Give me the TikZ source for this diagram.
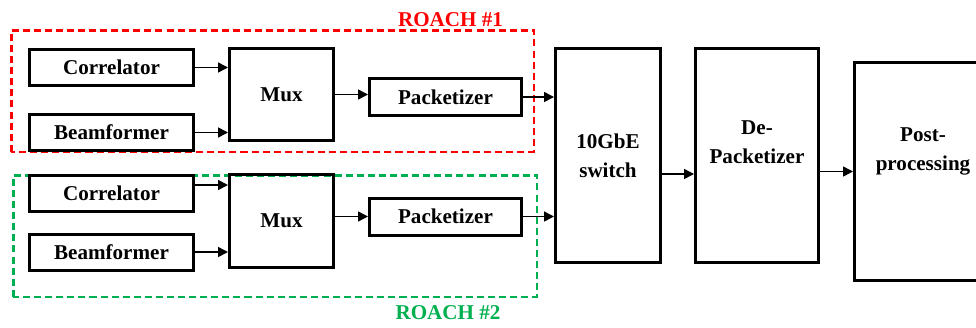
\documentclass[tikz,border=0pt]{standalone}
\usepackage{fontspec}
\setmainfont{Liberation Serif}
\usetikzlibrary{positioning,arrows.meta,calc}
\definecolor{roachred}{RGB}{255,0,0}
\definecolor{roachgreen}{RGB}{0,176,80}
\tikzset{
  flowarr/.style={-{Triangle[length=0.2cm,width=0.2cm]},line width=0.03cm},
  blk/.style={draw=black,line width=0.06cm,minimum width=3.28cm,minimum height=0.72cm,
              inner sep=0pt},
  pkt/.style={blk,minimum width=3.04cm,minimum height=0.74cm},
  muxbox/.style={blk,minimum width=2.08cm,minimum height=1.85cm},
  tall/.style={blk,minimum height=4.28cm,align=center},
  roach/.style={line width=0.05cm,dash pattern=on 4pt off 2.3pt},
  roachlbl/.style={anchor=base,inner sep=0pt}
}
\begin{document}
\begin{tikzpicture}[every node/.style={font=\fontsize{12}{16.5}\selectfont\bfseries}]
\useasboundingbox (0,0) rectangle (19.52,6.54);
\clip (0,0) rectangle (19.52,6.54);

% ROACH frames
\draw[roach, draw=roachred] (0.225,3.505) rectangle (10.675,5.935);
\draw[roach, draw=roachgreen] (0.265,0.605) rectangle (10.735,3.035);
\node[roachlbl, text=roachred] (lblA) at (9.01,6.02) {ROACH \#1};
\node[roachlbl, text=roachgreen] (lblB) at (8.96,0.16) {ROACH \#2};

% ROACH #1
\node[blk] (corrA) at (2.23,5.19) {Correlator};
\node[blk, below=0.52cm of corrA] (beamA) {Beamformer};
\node[muxbox] (muxA) at (5.63,4.65) {Mux};
\node[pkt, right=0.66cm of muxA, yshift=-0.05cm] (packA) {Packetizer};

% ROACH #2
\node[blk] (corrB) at (2.23,2.68) {Correlator};
\node[blk, below=0.4cm of corrB] (beamB) {Beamformer};
\node[muxbox] (muxB) at (5.63,2.12) {Mux};
\node[pkt, right=0.66cm of muxB, yshift=0.09cm] (packB) {Packetizer};

% switch and back end
\node[tall, minimum width=2.10cm] (sw) at (12.16,3.43) {10GbE\\switch};
\node[tall, minimum width=2.46cm, right=0.64cm of sw,
      label={[align=center,yshift=0.26cm]center:{De-\\Packetizer}}] (depack) {};
\node[tall, minimum width=2.74cm, minimum height=4.36cm, right=0.66cm of depack, yshift=-0.32cm,
      label={[align=center,yshift=0.40cm]center:{Post-\\processing}}] (post) {};

\draw[flowarr] (corrA.east) -- (corrA.east -| muxA.west);
\draw[flowarr] (beamA.east) -- (beamA.east -| muxA.west);
\draw[flowarr] (muxA.east) -- (muxA.east -| packA.west);
\draw[flowarr] (packA.east) -- (packA.east -| sw.west);
\draw[flowarr] ([yshift=0.16cm]corrB.east) -- ([yshift=0.16cm]corrB.east -| muxB.west);
\draw[flowarr] (beamB.east) -- (beamB.east -| muxB.west);
\draw[flowarr] (muxB.east |- packB.west) -- (packB.west);
\draw[flowarr] (packB.east) -- (packB.east -| sw.west);
\draw[flowarr] ([yshift=-0.37cm]sw.east) -- ([yshift=-0.37cm]sw.east -| depack.west);
\draw[flowarr] (post.west -| depack.east) -- (post.west);
\end{tikzpicture}
\end{document}
